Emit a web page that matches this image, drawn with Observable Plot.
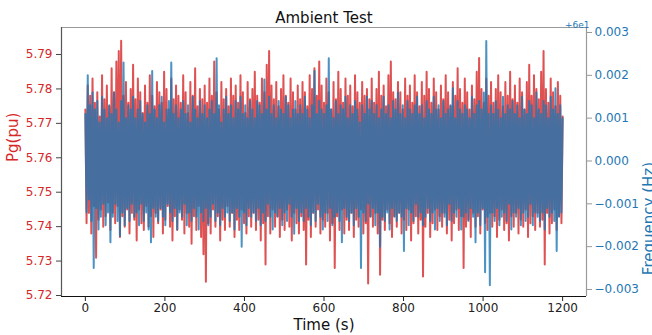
<!DOCTYPE html>
<html><head><meta charset="utf-8">
<script src="https://cdn.jsdelivr.net/npm/d3@7"></script>
<script src="https://cdn.jsdelivr.net/npm/@observablehq/plot@0.6"></script>
<style>body{margin:0;background:#fff} svg{display:block}</style>
</head><body><div id="chart"></div>
<script>
const title = "Ambient Test";
const xLabel = "Time (s)";
const leftLabel = "Pg(pu)";
const rightLabel = "Frequency (Hz)";
const offsetLabel = "+6e1";
const xTicks = [0, 200, 400, 600, 800, 1000, 1200];
const pgTicks = [5.72, 5.73, 5.74, 5.75, 5.76, 5.77, 5.78, 5.79];
const freqTicks = [-0.003, -0.002, -0.001, 0, 0.001, 0.002, 0.003]; // Hz, offset from 60
const sampleStep = 3; // seconds between samples

// Pg(pu), alternating upper/lower excursions
const pg = [
5.774,5.741,5.781,5.744,5.778,5.738,5.783,5.746,5.776,5.731,5.779,5.742,5.772,5.745,5.784,5.740,5.777,5.743,5.781,5.747,
5.775,5.739,5.786,5.744,5.779,5.741,5.788,5.746,5.791,5.737,5.794,5.743,5.778,5.740,5.782,5.745,5.776,5.738,5.780,5.744,
5.787,5.742,5.777,5.736,5.783,5.745,5.779,5.741,5.773,5.739,5.781,5.746,5.776,5.740,5.784,5.743,5.778,5.737,5.775,5.744,
5.782,5.741,5.779,5.745,5.776,5.738,5.785,5.742,5.780,5.746,5.774,5.740,5.783,5.736,5.777,5.743,5.781,5.739,5.778,5.745,
5.776,5.742,5.784,5.738,5.779,5.744,5.773,5.740,5.782,5.735,5.778,5.743,5.786,5.739,5.775,5.746,5.780,5.737,5.777,5.732,
5.781,5.724,5.776,5.741,5.783,5.738,5.778,5.745,5.788,5.740,5.779,5.743,5.774,5.736,5.782,5.742,5.777,5.739,5.780,5.746,
5.775,5.740,5.783,5.744,5.778,5.737,5.781,5.742,5.776,5.739,5.784,5.745,5.779,5.741,5.773,5.738,5.782,5.743,5.777,5.740,
5.780,5.744,5.785,5.739,5.778,5.742,5.776,5.736,5.783,5.741,5.779,5.729,5.787,5.743,5.791,5.738,5.781,5.745,5.777,5.740,
5.782,5.743,5.775,5.737,5.780,5.742,5.784,5.739,5.778,5.745,5.776,5.740,5.783,5.736,5.779,5.744,5.774,5.741,5.781,5.738,
5.777,5.743,5.782,5.739,5.779,5.729,5.775,5.742,5.784,5.737,5.780,5.744,5.786,5.740,5.778,5.745,5.788,5.738,5.781,5.742,
5.776,5.740,5.783,5.744,5.779,5.736,5.774,5.741,5.782,5.728,5.777,5.743,5.785,5.739,5.780,5.745,5.776,5.738,5.783,5.742,
5.778,5.739,5.781,5.744,5.775,5.737,5.784,5.742,5.779,5.740,5.776,5.745,5.782,5.738,5.778,5.741,5.780,5.7235,5.777,5.743,
5.783,5.740,5.776,5.744,5.780,5.738,5.785,5.726,5.778,5.742,5.781,5.739,5.775,5.745,5.784,5.741,5.788,5.737,5.779,5.743,
5.777,5.740,5.782,5.744,5.779,5.738,5.774,5.742,5.783,5.739,5.778,5.745,5.781,5.736,5.776,5.741,5.784,5.743,5.779,5.738,
5.775,5.742,5.782,5.7255,5.778,5.740,5.785,5.744,5.780,5.737,5.776,5.741,5.783,5.745,5.779,5.739,5.774,5.743,5.781,5.740,
5.777,5.744,5.784,5.738,5.779,5.742,5.775,5.736,5.782,5.741,5.778,5.745,5.786,5.739,5.780,5.743,5.776,5.728,5.783,5.740,
5.779,5.742,5.774,5.737,5.781,5.744,5.777,5.740,5.785,5.743,5.789,5.738,5.780,5.745,5.776,5.741,5.783,5.739,5.778,5.744,
5.782,5.740,5.776,5.743,5.780,5.737,5.784,5.742,5.779,5.745,5.775,5.739,5.782,5.741,5.778,5.736,5.785,5.743,5.777,5.740,
5.781,5.744,5.776,5.738,5.783,5.742,5.779,5.740,5.774,5.745,5.782,5.737,5.787,5.741,5.778,5.743,5.784,5.739,5.780,5.744,
5.777,5.740,5.785,5.742,5.791,5.729,5.780,5.744,5.776,5.738,5.783,5.741,5.779,5.745,5.775,5.739,5.782,5.743,5.778,5.741,
5.772
];

// Frequency offset from 60 Hz, in mHz
const freqMilliHz = [
1.1,-1.2,2.0,-0.9,1.3,-1.4,1.6,-2.5,1.2,-1.1,1.4,-1.6,0.9,-1.3,1.5,-1.0,1.2,-1.5,1.0,-1.2,
1.3,-1.9,1.1,-1.3,1.6,-1.0,1.2,-1.4,0.9,-1.75,1.4,-1.2,2.3,-1.5,1.0,-1.1,1.3,-1.4,1.2,-1.0,
1.5,-1.3,1.0,-1.2,1.2,-1.5,1.4,-1.0,1.1,-1.4,0.9,-1.2,1.3,-1.6,1.1,-1.9,2.1,-1.1,1.2,-1.3,
1.0,-1.4,1.3,-1.1,1.5,-1.3,0.9,-1.5,1.2,-1.0,1.4,-1.2,2.3,-1.4,1.1,-1.1,1.3,-1.6,1.0,-1.2,
1.2,-1.3,1.4,-1.0,1.1,-1.5,1.3,-1.2,0.9,-1.4,1.5,-1.1,1.2,-1.3,1.0,-1.6,1.4,-1.2,1.1,-1.4,
1.3,-1.1,1.0,-1.5,1.2,-1.3,1.4,-1.0,1.1,-1.4,2.4,-1.2,1.3,-1.5,0.9,-1.1,1.2,-1.3,1.5,-1.2,
1.1,-1.4,1.3,-1.2,1.0,-1.6,1.4,-1.1,1.2,-1.3,1.5,-2.0,1.1,-1.2,1.3,-1.5,1.0,-1.1,1.4,-1.3,
1.2,-1.2,1.0,-1.4,1.4,-1.1,1.3,-1.5,1.1,-1.2,1.9,-1.4,1.2,-1.0,1.5,-1.3,1.1,-1.6,1.3,-1.2,
1.0,-1.3,1.4,-1.1,1.2,-1.5,1.1,-1.2,1.5,-1.4,1.3,-1.0,1.0,-1.3,1.2,-1.7,1.4,-1.1,1.1,-1.4,
1.3,-1.2,1.1,-1.4,1.5,-1.1,1.2,-1.3,1.0,-1.5,1.3,-1.2,2.1,-1.4,1.1,-1.0,1.4,-1.3,1.2,-1.6,
1.1,-1.2,1.3,-1.4,2.4,-1.1,1.2,-1.5,1.0,-1.3,1.4,-1.2,1.1,-1.4,1.3,-1.9,1.2,-1.1,1.5,-1.3,
1.0,-1.4,1.3,-1.2,1.1,-1.5,1.4,-1.1,1.2,-1.3,0.9,-2.5,1.3,-1.2,1.1,-1.4,1.5,-1.0,1.2,-1.3,
1.4,-1.1,1.1,-1.5,1.3,-1.2,1.0,-2.0,1.2,-1.3,1.5,-1.4,1.1,-1.2,1.3,-1.6,1.0,-1.1,1.4,-1.3,
1.2,-1.4,1.6,-1.2,1.1,-1.3,1.3,-2.1,1.0,-1.1,1.4,-1.5,1.2,-1.2,1.1,-1.4,1.3,-1.0,1.5,-1.3,
1.1,-1.2,1.3,-1.5,1.0,-1.3,1.4,-1.1,1.2,-1.4,1.1,-1.2,1.5,-1.6,1.2,-1.1,1.3,-1.4,1.0,-1.2,
1.4,-1.3,1.1,-1.5,1.2,-1.0,1.3,-1.4,1.7,-1.2,1.0,-1.3,1.4,-1.1,1.2,-1.6,1.1,-1.3,1.3,-1.2,
1.2,-1.4,1.0,-1.1,1.5,-1.3,1.1,-1.9,1.3,-1.2,1.4,-1.5,1.2,-1.1,1.6,-2.6,2.8,-1.3,1.1,-2.9,
1.3,-1.2,1.1,-1.4,1.4,-1.1,1.2,-1.5,1.0,-1.3,1.5,-1.2,1.1,-1.4,1.3,-1.0,1.2,-1.6,1.4,-1.2,
1.1,-1.3,1.3,-1.1,1.0,-1.5,1.5,-1.2,1.2,-1.4,1.1,-1.3,1.4,-1.0,1.3,-1.5,1.0,-1.2,1.6,-1.3,
1.2,-1.4,1.1,-1.2,1.4,-1.6,1.3,-1.1,1.0,-1.3,1.5,-1.2,1.2,-1.4,1.7,-2.1,1.1,-1.3,1.3,-1.2,
1.0
];

const red = "#d62728", blue = "#1f77b4";
const L = [5.71971, 5.79784];      // left (Pg) domain
const R = [-0.003164, 0.003117];   // right (frequency offset) domain
const toP = f => L[0] + (f - R[0]) / (R[1] - R[0]) * (L[1] - L[0]);
const fromP = p => R[0] + (p - L[0]) / (L[1] - L[0]) * (R[1] - R[0]);
const fmtF = d3.format(".3f");

const pgData = pg.map((v, i) => ({t: i * sampleStep, v}));
const fData = freqMilliHz.map((v, i) => ({t: i * sampleStep, v: v / 1000}));

const chart = Plot.plot({
  width: 652, height: 335,
  marginLeft: 61, marginRight: 66, marginTop: 27, marginBottom: 39,
  style: {fontFamily: "DejaVu Sans, sans-serif", background: "#fff", overflow: "visible"},
  x: {domain: [-60, 1260]},
  y: {domain: L},
  marks: [
    Plot.line(pgData, {x: "t", y: "v", stroke: red, strokeOpacity: 0.8, strokeWidth: 2}),
    Plot.line(fData, {x: "t", y: d => toP(d.v), stroke: blue, strokeOpacity: 0.8, strokeWidth: 2}),
    Plot.ruleY([L[1]], {stroke: "#999", strokeWidth: 1.2}),
    Plot.ruleX([1260], {stroke: "#999", strokeWidth: 1.2}),
    Plot.ruleX([-60], {stroke: "#555", strokeWidth: 1.2}),
    Plot.ruleY([L[0]], {stroke: "#111", strokeWidth: 1.2}),
    Plot.axisX({ticks: xTicks, tickFormat: d => String(d), tickSize: 5, tickPadding: 2, fontSize: 12, stroke: "#222", fill: "#222", label: null}),
    Plot.axisY({ticks: pgTicks, tickFormat: d3.format(".2f"), tickSize: 5, tickPadding: 4, fontSize: 12, stroke: "#444", fill: red, label: null}),
    Plot.axisY({anchor: "right", ticks: freqTicks.map(toP), tickFormat: d => fmtF(fromP(d)), tickSize: 5, tickPadding: 3, fontSize: 12, stroke: "#999", fill: blue, label: null}),
    Plot.text([title], {frameAnchor: "top", dy: -15, fontSize: 15, fill: "#111"}),
    Plot.text([xLabel], {frameAnchor: "bottom", dy: 33, fontSize: 15, fill: "#111"}),
    Plot.text([leftLabel], {frameAnchor: "left", dx: -48, rotate: -90, fontSize: 15, fill: red}),
    Plot.text([rightLabel], {frameAnchor: "right", dx: 63, rotate: -90, fontSize: 15, fill: blue}),
    Plot.text([offsetLabel], {frameAnchor: "top-right", textAnchor: "end", dx: 3, dy: -6, fontSize: 9, fill: blue})
  ]
});
document.getElementById("chart").appendChild(chart);
</script>
</body></html>
